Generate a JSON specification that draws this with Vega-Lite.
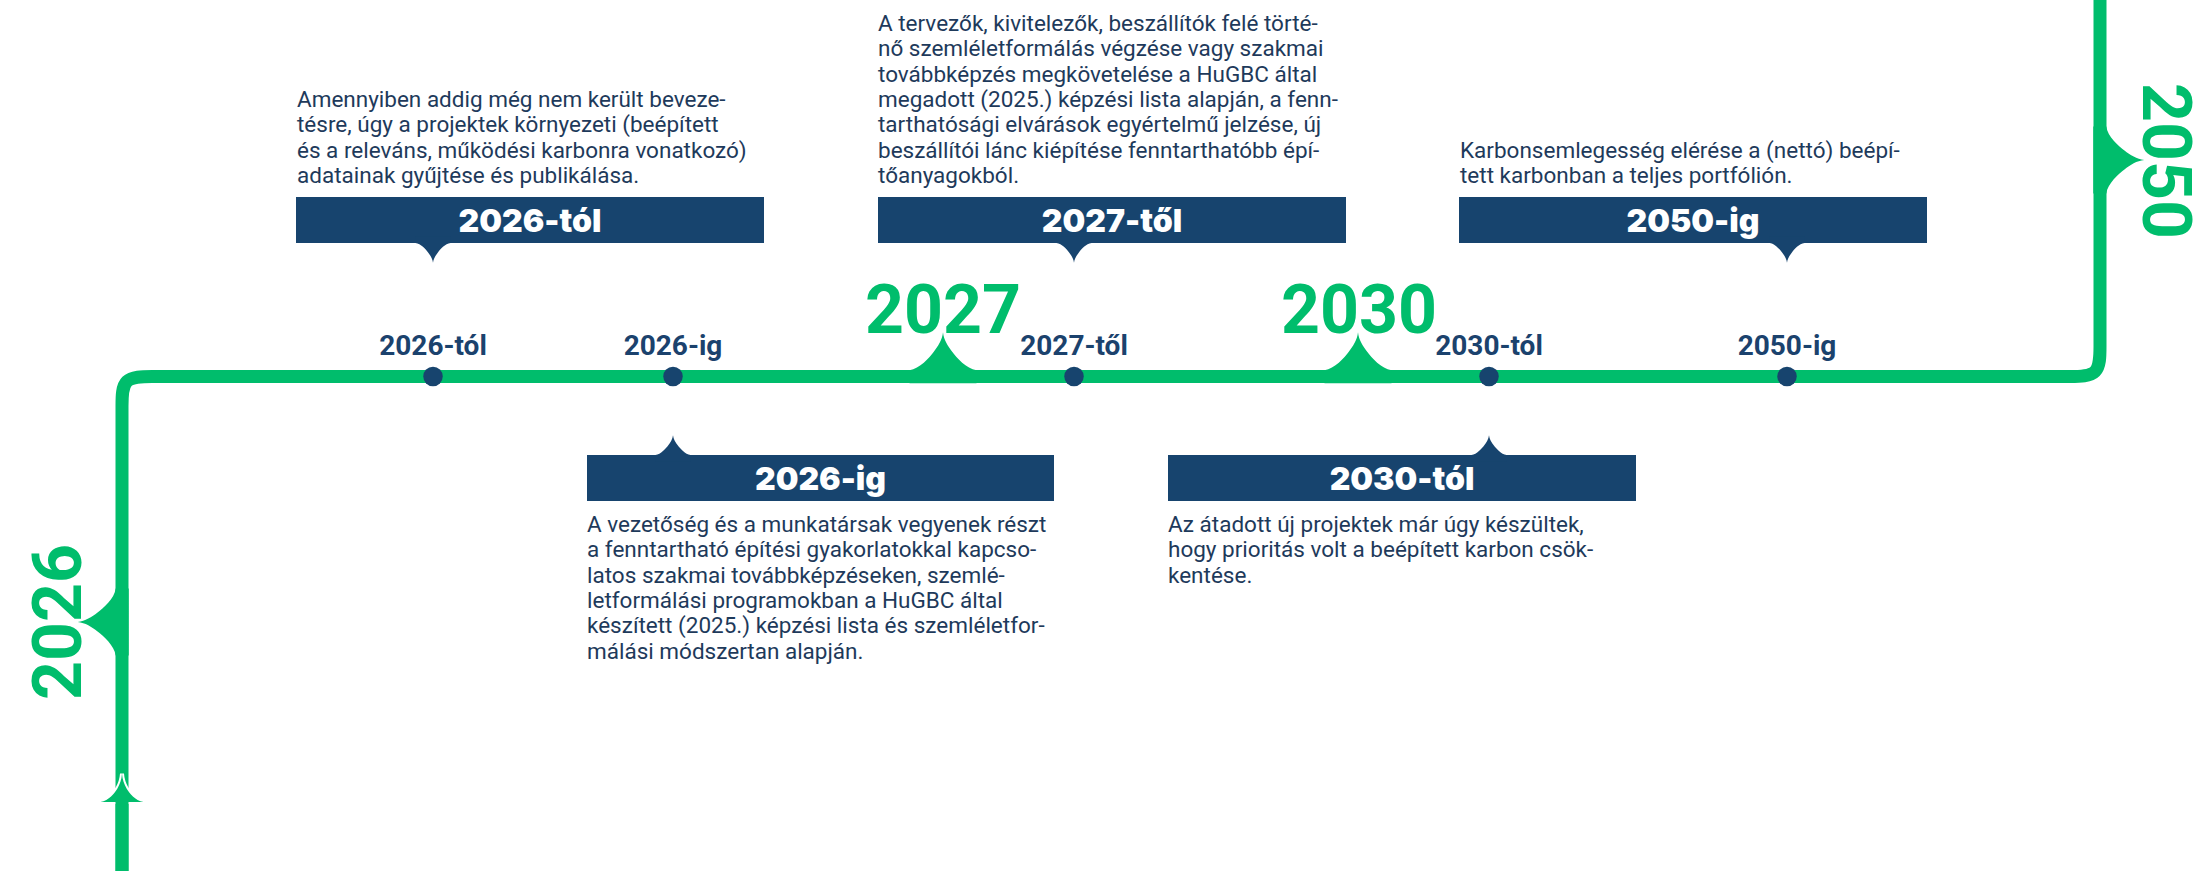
{
  "$schema": "https://vega.github.io/schema/vega-lite/v6.json",
  "width": 2198,
  "height": 871,
  "autosize": {"type": "none"},
  "padding": 0,
  "background": "white",
  "config": {"view": {"stroke": null}},
  "datasets": {
    "path": [
      {"i": 0, "x": 122, "y": 871},
      {"i": 1, "x": 122, "y": 466},
      {"i": 2, "x": 122, "y": 436},
      {"i": 3, "x": 122, "y": 406},
      {"i": 4, "x": 122, "y": 376.5},
      {"i": 5, "x": 152, "y": 376.5},
      {"i": 6, "x": 182, "y": 376.5},
      {"i": 7, "x": 2040, "y": 376.5},
      {"i": 8, "x": 2070, "y": 376.5},
      {"i": 9, "x": 2100, "y": 376.5},
      {"i": 10, "x": 2100, "y": 346.5},
      {"i": 11, "x": 2100, "y": 316.5},
      {"i": 12, "x": 2100, "y": 0}
    ],
    "stem": [
      {"i": 0, "x": 122, "y": 801},
      {"i": 1, "x": 122, "y": 871}
    ],
    "spikes": [
      {"x": 122, "y": 622, "dir": 270},
      {"x": 943, "y": 376.5, "dir": 0},
      {"x": 1358, "y": 376.5, "dir": 0},
      {"x": 2100, "y": 160, "dir": 90}
    ],
    "arrow": [{"x": 122, "y": 802}],
    "years": [
      {"year": "2026", "x": 81, "y": 622, "dir": 270},
      {"year": "2027", "x": 943, "y": 333, "dir": 0},
      {"year": "2030", "x": 1359, "y": 333, "dir": 0},
      {"year": "2050", "x": 2143, "y": 161, "dir": 90}
    ],
    "milestones": [
      {"label": "2026-tól", "x": 433, "y": 376.5, "ly": 355},
      {"label": "2026-ig", "x": 673, "y": 376.5, "ly": 355},
      {"label": "2027-től", "x": 1074, "y": 376.5, "ly": 355},
      {"label": "2030-tól", "x": 1489, "y": 376.5, "ly": 355},
      {"label": "2050-ig", "x": 1787, "y": 376.5, "ly": 355}
    ],
    "cards": [
      {"title": "2026-tól", "px": 433, "x1": 296, "x2": 764, "tx": 530, "y1": 197, "y2": 243, "ty": 232, "py": 239.7, "pdir": 180, "ptx": 297, "pty": 107,
       "text": "Amennyiben addig még nem került beveze-\ntésre, úgy a projektek környezeti (beépített\nés a releváns, működési karbonra vonatkozó)\nadatainak gyűjtése és publikálása."},
      {"title": "2027-től", "px": 1074, "x1": 878, "x2": 1346, "tx": 1112, "y1": 197, "y2": 243, "ty": 232, "py": 239.7, "pdir": 180, "ptx": 878, "pty": 31,
       "text": "A tervezők, kivitelezők, beszállítók felé törté-\nnő szemléletformálás végzése vagy szakmai\ntovábbképzés megkövetelése a HuGBC által\nmegadott (2025.) képzési lista alapján, a fenn-\ntarthatósági elvárások egyértelmű jelzése, új\nbeszállítói lánc kiépítése fenntarthatóbb épí-\ntőanyagokból."},
      {"title": "2050-ig", "px": 1787, "x1": 1459, "x2": 1927, "tx": 1693, "y1": 197, "y2": 243, "ty": 232, "py": 239.7, "pdir": 180, "ptx": 1460, "pty": 157.7,
       "text": "Karbonsemlegesség elérése a (nettó) beépí-\ntett karbonban a teljes portfólión."},
      {"title": "2026-ig", "px": 673, "x1": 587, "x2": 1054, "tx": 820.5, "y1": 455, "y2": 501, "ty": 489.5, "py": 458.3, "pdir": 0, "ptx": 587, "pty": 532,
       "text": "A vezetőség és a munkatársak vegyenek részt\na fenntartható építési gyakorlatokkal kapcso-\nlatos szakmai továbbképzéseken, szemlé-\nletformálási programokban a HuGBC által\nkészített (2025.) képzési lista és szemléletfor-\nmálási módszertan alapján."},
      {"title": "2030-tól", "px": 1489, "x1": 1168, "x2": 1636, "tx": 1402, "y1": 455, "y2": 501, "ty": 489.5, "py": 458.3, "pdir": 0, "ptx": 1168, "pty": 532,
       "text": "Az átadott új projektek már úgy készültek,\nhogy prioritás volt a beépített karbon csök-\nkentése."}
    ]
  },
  "layer": [
    {
      "data": {"name": "path"},
      "mark": {"type": "line", "interpolate": "basis", "stroke": "#00BD6C", "strokeWidth": 13, "strokeCap": "butt"},
      "encoding": {
        "x": {"field": "x", "type": "quantitative", "scale": {"domain": [0, 2198], "nice": false, "zero": false}, "axis": null},
        "y": {"field": "y", "type": "quantitative", "scale": {"domain": [0, 871], "nice": false, "zero": false, "reverse": true}, "axis": null},
        "order": {"field": "i", "type": "quantitative"}
      }
    },
    {
      "data": {"name": "spikes"},
      "mark": {"type": "point", "filled": true, "opacity": 1, "color": "#00BD6C", "size": 4489,
        "shape": "M-1,0.2 L-1,-0.19 C-0.7,-0.22 -0.4,-0.57 -0.28,-0.73 C-0.15,-0.9 -0.02,-1.1 0,-1.32 C0.02,-1.1 0.15,-0.9 0.28,-0.73 C0.4,-0.57 0.7,-0.22 1,-0.19 L1,0.2 Z"},
      "encoding": {
        "x": {"field": "x", "type": "quantitative", "axis": null},
        "y": {"field": "y", "type": "quantitative", "axis": null},
        "angle": {"field": "dir", "type": "quantitative", "scale": null}
      }
    },
    {
      "data": {"name": "arrow"},
      "mark": {"type": "point", "filled": true, "opacity": 1, "fill": "#00BD6C", "stroke": "white", "strokeWidth": 4, "size": 1849,
        "shape": "M-1,0 C-0.6,-0.08 -0.35,-0.42 -0.22,-0.62 C-0.1,-0.82 -0.02,-1.02 0,-1.32 C0.02,-1.02 0.1,-0.82 0.22,-0.62 C0.35,-0.42 0.6,-0.08 1,0 Z"},
      "encoding": {
        "x": {"field": "x", "type": "quantitative", "axis": null},
        "y": {"field": "y", "type": "quantitative", "axis": null}
      }
    },
    {
      "data": {"name": "arrow"},
      "mark": {"type": "point", "filled": true, "opacity": 1, "fill": "#00BD6C", "strokeWidth": 0, "size": 1849,
        "shape": "M-1,0 C-0.6,-0.08 -0.35,-0.42 -0.22,-0.62 C-0.1,-0.82 -0.02,-1.02 0,-1.32 C0.02,-1.02 0.1,-0.82 0.22,-0.62 C0.35,-0.42 0.6,-0.08 1,0 Z"},
      "encoding": {
        "x": {"field": "x", "type": "quantitative", "axis": null},
        "y": {"field": "y", "type": "quantitative", "axis": null}
      }
    },
    {
      "data": {"name": "stem"},
      "mark": {"type": "line", "stroke": "#00BD6C", "strokeWidth": 13, "strokeCap": "butt"},
      "encoding": {
        "x": {"field": "x", "type": "quantitative", "axis": null},
        "y": {"field": "y", "type": "quantitative", "axis": null},
        "order": {"field": "i", "type": "quantitative"}
      }
    },
    {
      "data": {"name": "milestones"},
      "mark": {"type": "point", "shape": "circle", "filled": true, "opacity": 1, "color": "#17446E", "size": 380},
      "encoding": {
        "x": {"field": "x", "type": "quantitative", "axis": null},
        "y": {"field": "y", "type": "quantitative", "axis": null}
      }
    },
    {
      "data": {"name": "milestones"},
      "mark": {"type": "text", "font": "Roboto", "fontWeight": "bold", "fontSize": 28, "color": "#1B426D", "align": "center", "baseline": "alphabetic"},
      "encoding": {
        "x": {"field": "x", "type": "quantitative", "axis": null},
        "y": {"field": "ly", "type": "quantitative", "axis": null},
        "text": {"field": "label", "type": "nominal"}
      }
    },
    {
      "data": {"name": "years"},
      "mark": {"type": "text", "font": "Roboto", "fontWeight": "bold", "fontSize": 68, "color": "#00BD6C", "align": "center", "baseline": "alphabetic"},
      "encoding": {
        "x": {"field": "x", "type": "quantitative", "axis": null},
        "y": {"field": "y", "type": "quantitative", "axis": null},
        "text": {"field": "year", "type": "nominal"},
        "angle": {"field": "dir", "type": "quantitative", "scale": null}
      }
    },
    {
      "data": {"name": "cards"},
      "mark": {"type": "rect", "color": "#17446E"},
      "encoding": {
        "x": {"field": "x1", "type": "quantitative", "axis": null},
        "x2": {"field": "x2"},
        "y": {"field": "y1", "type": "quantitative", "axis": null},
        "y2": {"field": "y2"}
      }
    },
    {
      "data": {"name": "cards"},
      "mark": {"type": "point", "filled": true, "opacity": 1, "color": "#17446E", "size": 1225,
        "shape": "M-1,0.2 L-1,-0.19 C-0.7,-0.22 -0.4,-0.57 -0.28,-0.73 C-0.15,-0.9 -0.02,-1.1 0,-1.32 C0.02,-1.1 0.15,-0.9 0.28,-0.73 C0.4,-0.57 0.7,-0.22 1,-0.19 L1,0.2 Z"},
      "encoding": {
        "x": {"field": "px", "type": "quantitative", "axis": null},
        "y": {"field": "py", "type": "quantitative", "axis": null},
        "angle": {"field": "pdir", "type": "quantitative", "scale": null}
      }
    },
    {
      "data": {"name": "cards"},
      "mark": {"type": "text", "font": "Inter", "fontWeight": 900, "fontSize": 32, "color": "white", "align": "center", "baseline": "alphabetic"},
      "encoding": {
        "x": {"field": "tx", "type": "quantitative", "axis": null},
        "y": {"field": "ty", "type": "quantitative", "axis": null},
        "text": {"field": "title", "type": "nominal"}
      }
    },
    {
      "data": {"name": "cards"},
      "mark": {"type": "text", "font": "Roboto", "fontSize": 22.5, "color": "#1E3A5B", "align": "left", "baseline": "alphabetic", "lineBreak": "\n", "lineHeight": 25.3},
      "encoding": {
        "x": {"field": "ptx", "type": "quantitative", "axis": null},
        "y": {"field": "pty", "type": "quantitative", "axis": null},
        "text": {"field": "text", "type": "nominal"}
      }
    }
  ]
}
